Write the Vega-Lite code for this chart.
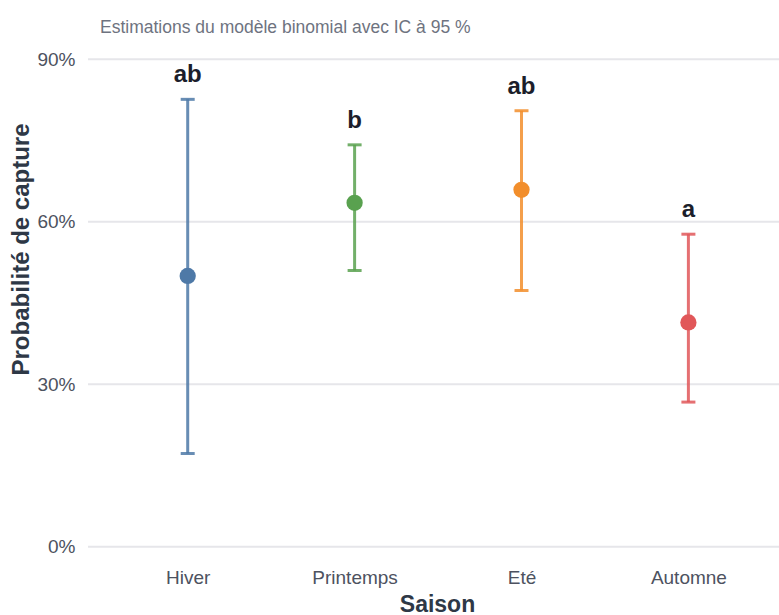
{
  "$schema": "https://vega.github.io/schema/vega-lite/v6.json",
  "autosize": "none",
  "width": 691,
  "height": 518,
  "padding": {"left": 88, "top": 42, "right": 0, "bottom": 55},
  "background": "white",
  "config": {
    "font": "Liberation Sans",
    "view": {"stroke": null}
  },
  "title": {
    "text": "Estimations du modèle binomial avec IC à 95 %",
    "anchor": "start",
    "frame": "group",
    "dx": 12,
    "offset": -8,
    "baseline": "alphabetic",
    "fontSize": 17.5,
    "fontWeight": "normal",
    "color": "#6E7380",
    "font": "Liberation Sans"
  },
  "datasets": {
    "estimations": [
      {"saison": "Hiver", "p": 0.500, "lo": 0.172, "hi": 0.826, "lettre": "ab"},
      {"saison": "Printemps", "p": 0.635, "lo": 0.510, "hi": 0.742, "lettre": "b"},
      {"saison": "Eté", "p": 0.659, "lo": 0.473, "hi": 0.805, "lettre": "ab"},
      {"saison": "Automne", "p": 0.414, "lo": 0.267, "hi": 0.577, "lettre": "a"}
    ],
    "grille": [
      {"niveau": 0},
      {"niveau": 0.3},
      {"niveau": 0.6},
      {"niveau": 0.9}
    ]
  },
  "data": {"name": "estimations"},
  "resolve": {"scale": {"y": "shared"}},
  "layer": [
    {
      "data": {"name": "grille"},
      "mark": {"type": "rule", "stroke": "#E6E6EA", "strokeWidth": 2},
      "encoding": {
        "y": {
          "field": "niveau",
          "type": "quantitative",
          "scale": {"domain": [-0.0246, 0.9319], "nice": false, "zero": false},
          "axis": {
            "title": "Probabilité de capture",
            "titleX": -60,
            "titleY": 207,
            "titleAngle": -90,
            "titleBaseline": "alphabetic",
            "titleFontSize": 24,
            "titleFontWeight": "bold",
            "titleColor": "#2E3846",
            "values": [0, 0.3, 0.6, 0.9],
            "format": ".0%",
            "labelFontSize": 19,
            "labelColor": "#4D5260",
            "labelPadding": 13,
            "domain": false,
            "ticks": false,
            "grid": false
          }
        }
      }
    },
    {
      "encoding": {
        "x": {
          "field": "saison",
          "type": "nominal",
          "sort": ["Hiver", "Printemps", "Eté", "Automne"],
          "scale": {"type": "point", "range": [99.7, 600.4], "padding": 0},
          "axis": {
            "title": "Saison",
            "titleX": 349,
            "titleY": 51,
            "titleBaseline": "alphabetic",
            "titleFontSize": 23,
            "titleFontWeight": "bold",
            "titleColor": "#2E3846",
            "labelFontSize": 19,
            "labelColor": "#4D5260",
            "labelPadding": 8,
            "labelAngle": 0,
            "domain": false,
            "ticks": false,
            "grid": false
          }
        },
        "color": {
          "field": "saison",
          "type": "nominal",
          "scale": {
            "domain": ["Hiver", "Printemps", "Eté", "Automne"],
            "range": ["#4E79A7", "#59A14F", "#F28E2B", "#E15759"]
          },
          "legend": null
        }
      },
      "layer": [
        {
          "mark": {"type": "rule", "strokeWidth": 3, "opacity": 0.85},
          "encoding": {
            "y": {"field": "lo", "type": "quantitative"},
            "y2": {"field": "hi"}
          }
        },
        {
          "mark": {"type": "tick", "size": 14, "thickness": 3, "opacity": 0.85},
          "encoding": {"y": {"field": "hi", "type": "quantitative"}}
        },
        {
          "mark": {"type": "tick", "size": 14, "thickness": 3, "opacity": 0.85},
          "encoding": {"y": {"field": "lo", "type": "quantitative"}}
        },
        {
          "mark": {"type": "circle", "size": 265, "opacity": 1},
          "encoding": {"y": {"field": "p", "type": "quantitative"}}
        },
        {
          "mark": {
            "type": "text",
            "dy": -17,
            "baseline": "alphabetic",
            "fontSize": 24,
            "fontWeight": "bold"
          },
          "encoding": {
            "y": {"field": "hi", "type": "quantitative"},
            "text": {"field": "lettre"},
            "color": {"value": "#1C1E2B"}
          }
        }
      ]
    }
  ]
}
